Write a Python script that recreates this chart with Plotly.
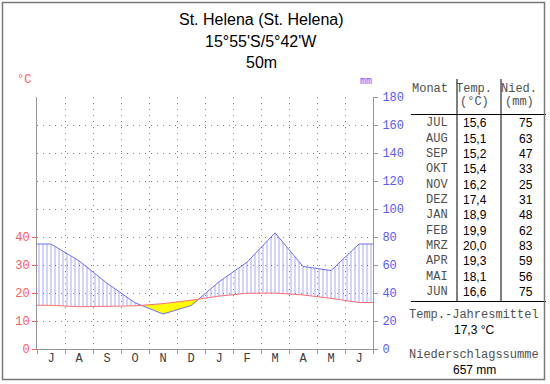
import plotly.graph_objects as go

# ---- data ----
months_table = ["JUL", "AUG", "SEP", "OKT", "NOV", "DEZ", "JAN", "FEB", "MRZ", "APR", "MAI", "JUN"]
month_letters = ["J", "A", "S", "O", "N", "D", "J", "F", "M", "A", "M", "J"]
temps = [15.6, 15.1, 15.2, 15.4, 16.2, 17.4, 18.9, 19.9, 20.0, 19.3, 18.1, 16.6]
precip = [75, 63, 47, 33, 25, 31, 48, 62, 83, 59, 56, 75]
temp_ticks = [0, 10, 20, 30, 40]
mm_ticks = [0, 20, 40, 60, 80, 100, 120, 140, 160, 180]
title_lines = ["St. Helena (St. Helena)", "15°55'S/5°42'W", "50m"]
annual_temp = "17,3 °C"
annual_precip = "657 mm"

# ---- geometry (pixels) ----
W, H = 550, 384
L, R, T, B = 37, 373, 97, 349


def px(x):
    return (x - L) / (R - L)


def py(y):
    return (B - y) / (B - T)


RED = "rgb(255,90,90)"
BLUE = "rgb(90,90,255)"
GRAY = "rgb(150,150,150)"
TXT = "rgb(80,80,80)"

# knots: edges + month centers
xs = [0.0] + [i + 0.5 for i in range(12)] + [12.0]
P = [precip[0]] + precip + [precip[-1]]
T2 = [2 * temps[0]] + [2 * t for t in temps] + [2 * temps[-1]]

# insert crossing points
X, PP, TT = [xs[0]], [P[0]], [T2[0]]
for i in range(1, len(xs)):
    d0 = P[i - 1] - T2[i - 1]
    d1 = P[i] - T2[i]
    if d0 * d1 < 0:
        f = d0 / (d0 - d1)
        xc = xs[i - 1] + f * (xs[i] - xs[i - 1])
        vc = T2[i - 1] + f * (T2[i] - T2[i - 1])
        X.append(xc); PP.append(vc); TT.append(vc)
    X.append(xs[i]); PP.append(P[i]); TT.append(T2[i])

upper_h = [max(p, t) for p, t in zip(PP, TT)]
lower_a = [min(p, t) for p, t in zip(PP, TT)]

fig = go.Figure()
# humid hatch
fig.add_trace(go.Scatter(x=X, y=TT, mode="lines", line=dict(width=0), hoverinfo="skip", showlegend=False))
fig.add_trace(go.Scatter(x=X, y=upper_h, mode="lines", line=dict(width=0), fill="tonexty",
                         fillcolor="rgba(0,0,0,0)",
                         fillpattern=dict(shape="|", fgcolor="rgb(80,80,255)", bgcolor="rgba(0,0,0,0)",
                                          size=4, solidity=0.25, fillmode="overlay"),
                         hoverinfo="skip", showlegend=False))
# arid fill
fig.add_trace(go.Scatter(x=X, y=lower_a, mode="lines", line=dict(width=0), hoverinfo="skip", showlegend=False))
fig.add_trace(go.Scatter(x=X, y=TT, mode="lines", line=dict(width=0), fill="tonexty",
                         fillcolor="rgb(255,255,0)", hoverinfo="skip", showlegend=False))
# lines
fig.add_trace(go.Scatter(x=xs, y=P, mode="lines", line=dict(color="rgb(110,110,255)", width=1),
                         hoverinfo="skip", showlegend=False))
fig.add_trace(go.Scatter(x=xs, y=T2, mode="lines", line=dict(color="rgb(255,110,110)", width=1),
                         hoverinfo="skip", showlegend=False))
# invisible trace for left axis
fig.add_trace(go.Scatter(x=[0], y=[0], yaxis="y2", mode="markers", marker=dict(opacity=0),
                         hoverinfo="skip", showlegend=False))
# invisible trace for month label axis
fig.add_trace(go.Scatter(x=[0.5], y=[0], xaxis="x2", mode="markers", marker=dict(opacity=0),
                         hoverinfo="skip", showlegend=False))

mono = "Liberation Mono"
sans = "Liberation Sans"

fig.update_layout(
    width=W, height=H,
    margin=dict(l=L, r=W - R, t=T, b=H - B, autoexpand=False),
    paper_bgcolor="white", plot_bgcolor="white",
    xaxis=dict(range=[0, 12], tickvals=list(range(13)), showticklabels=False,
               ticks="outside", ticklen=4, tickcolor=GRAY,
               showgrid=True, gridcolor="rgb(130,130,130)", griddash="1px,5px", gridwidth=1,
               showline=True, linecolor=GRAY, linewidth=1, zeroline=False, fixedrange=True),
    xaxis2=dict(range=[0, 12], overlaying="x", side="bottom", tickvals=[i + 0.5 for i in range(12)],
                ticktext=month_letters, ticks="", showgrid=False, showline=False, zeroline=False,
                tickfont=dict(family=mono, size=12, color="rgb(60,60,60)")),
    yaxis=dict(range=[0, 180], side="right", tickvals=mm_ticks, ticks="outside", ticklen=4,
               tickcolor=GRAY, tickfont=dict(family=mono, size=12, color=BLUE),
               showgrid=True, gridcolor="rgb(130,130,130)", griddash="1px,5px", gridwidth=1,
               showline=True, linecolor=GRAY, linewidth=1, zeroline=False, ticklabelstandoff=2),
    yaxis2=dict(range=[0, 90], overlaying="y", side="left", tickvals=temp_ticks, ticks="outside",
                ticklen=4, tickcolor=RED, tickfont=dict(family=mono, size=12, color=RED),
                showgrid=False, showline=True, linecolor=GRAY, linewidth=1, zeroline=False),
)

ann = []
# titles
for txt, y in zip(title_lines, [19, 41.5, 62.5]):
    ann.append(dict(text=txt, x=px(261), y=py(y), xref="paper", yref="paper", showarrow=False,
                    xanchor="center", yanchor="middle", font=dict(family=sans, size=16, color="black")))
ann.append(dict(text="°C", x=px(24), y=py(80), xref="paper", yref="paper", showarrow=False,
                xanchor="center", yanchor="middle", font=dict(family=mono, size=12, color=RED)))
ann.append(dict(text="mm", x=px(366), y=py(81), xref="paper", yref="paper", showarrow=False,
                xanchor="center", yanchor="middle", font=dict(family=mono, size=10, color=BLUE)))
# table header
hdr = [("Monat", 430, 89), ("Temp.", 474, 89), ("(°C)", 474, 102), ("Nied.", 519, 89), ("(mm)", 519, 102)]
for txt, x, y in hdr:
    ann.append(dict(text=txt, x=px(x), y=py(y), xref="paper", yref="paper", showarrow=False,
                    xanchor="center", yanchor="middle", font=dict(family=mono, size=12, color=TXT)))
for i, m in enumerate(months_table):
    y = 123.5 + i * 15.3
    ann.append(dict(text=m, x=px(437), y=py(y), xref="paper", yref="paper", showarrow=False,
                    xanchor="center", yanchor="middle", font=dict(family=mono, size=12, color=TXT)))
    ann.append(dict(text=f"{temps[i]:.1f}".replace(".", ","), x=px(489), y=py(y), xref="paper", yref="paper",
                    showarrow=False, xanchor="right", yanchor="middle",
                    font=dict(family=sans, size=12, color="black")))
    ann.append(dict(text=str(precip[i]), x=px(535), y=py(y), xref="paper", yref="paper",
                    showarrow=False, xanchor="right", yanchor="middle",
                    font=dict(family=sans, size=12, color="black")))
foot = [("Temp.-Jahresmittel", 315, mono, TXT), (annual_temp, 330, sans, "black"),
        ("Niederschlagssumme", 355, mono, TXT), (annual_precip, 370, sans, "black")]
for txt, y, fam, col in foot:
    ann.append(dict(text=txt, x=px(474), y=py(y), xref="paper", yref="paper", showarrow=False,
                    xanchor="center", yanchor="middle", font=dict(family=fam, size=12, color=col)))
fig.update_layout(annotations=ann)

shapes = []
# table lines
shapes.append(dict(type="line", xref="paper", yref="paper", x0=px(411), x1=px(546), y0=py(114.5), y1=py(114.5),
                   line=dict(color="black", width=1)))
shapes.append(dict(type="line", xref="paper", yref="paper", x0=px(411), x1=px(546), y0=py(301.5), y1=py(301.5),
                   line=dict(color="black", width=1)))
for xv in [457, 501]:
    shapes.append(dict(type="line", xref="paper", yref="paper", x0=px(xv), x1=px(xv), y0=py(79), y1=py(301.5),
                       line=dict(color="black", width=1)))
# outer frame
shapes.append(dict(type="rect", xref="paper", yref="paper", x0=px(2.5), x1=px(544.5), y0=py(2.5), y1=py(379.5),
                   line=dict(color="rgb(120,120,120)", width=1.5), fillcolor="rgba(0,0,0,0)"))
fig.update_layout(shapes=shapes)

fig.write_html("out.html", config={"displayModeBar": False, "staticPlot": True},
               post_script="document.body.style.margin='0';document.body.style.overflow='hidden';")
